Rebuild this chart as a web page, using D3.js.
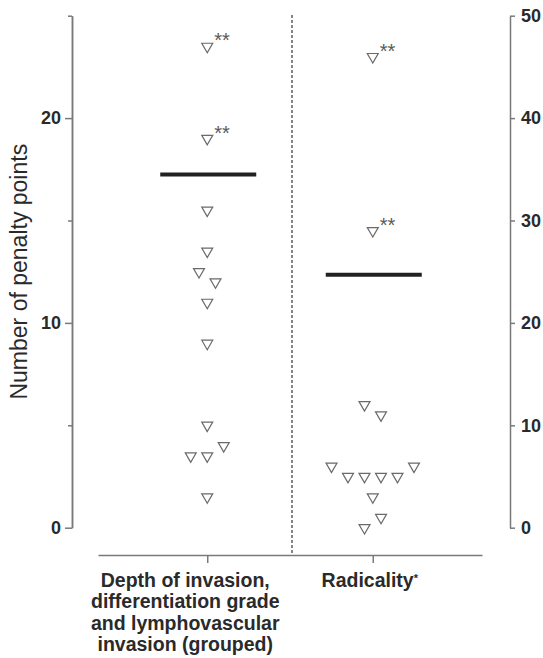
<!DOCTYPE html>
<html>
<head>
<meta charset="utf-8">
<script src="https://cdn.jsdelivr.net/npm/d3@7"></script>
<style>
  body { margin: 0; background: #fff; }
  text { font-family: Arial, "Liberation Sans", sans-serif; }
</style>
</head>
<body>
<div id="canvas"></div>
<script>
// categories on the x axis
const categories = ["depth", "radicality"];
const categoryLabels = {
    depth: ["Depth of invasion,", "differentiation grade", "and lymphovascular", "invasion (grouped)"],
    radicality: ["Radicality"]
};

// penalty points per patient, left group on left axis (0-25), right group on right axis (0-50)
const depthValues = [23.5, 19, 15.5, 13.5, 12.5, 12, 11, 9, 5, 4, 3.5, 3.5, 1.5];
const depthSlot   = [0, 0, 0, 0, -0.5, 0.5, 0, 0, 0, 1, -1, 0, 0];
const depthMarks  = ["**", "**", "", "", "", "", "", "", "", "", "", "", ""];

const radicalityValues = [46, 29, 12, 11, 6, 6, 5, 5, 5, 5, 3, 1, 0];
const radicalitySlot   = [0, 0, -0.5, 0.5, -2.5, 2.5, -1.5, -0.5, 0.5, 1.5, 0, 0.5, -0.5];
const radicalityMarks  = ["**", "**", "", "", "", "", "", "", "", "", "", "", ""];

// horizontal bars (cut-off levels)
const depthLine = 17.25;
const radicalityLine = 24.7;

// tick values
const leftTicks = [0, 10, 20];
const leftMinorTicks = [5, 15, 25];
const rightTicks = [0, 10, 20, 30, 40, 50];

const width = 543;
const height = 658;

const svg = d3.select("#canvas")
    .append("svg")
    .attr("width", width)
    .attr("height", height);

const yLeft = d3.scaleLinear().domain([0, 25]).range([527.7, 15.7]);
const yRight = d3.scaleLinear().domain([0, 50]).range([527.7, 15.7]);

const x = d3.scalePoint()
    .domain(categories)
    .range([98, 482])
    .padding(0.66);

// swarm offset, one slot ~ one triangle width
const slot = d3.scaleLinear().domain([-1, 1]).range([-16.5, 16.5]);

const axisColor = "#7a7a7a";

function styleAxis(g) {
    g.selectAll(".domain").attr("stroke", axisColor).attr("stroke-width", 1.5);
    g.selectAll(".tick line").attr("stroke", axisColor).attr("stroke-width", 1.5);
    g.selectAll(".tick text")
        .attr("fill", "#2a2a2a")
        .style("font-size", "18px")
        .style("font-weight", "bold");
}

// left axis
svg.append("g")
    .attr("transform", "translate(72,0)")
    .call(d3.axisLeft(yLeft).tickValues(leftTicks).tickSize(7).tickPadding(4).tickSizeOuter(0))
    .call(styleAxis);

svg.append("g")
    .attr("transform", "translate(72,0)")
    .call(d3.axisLeft(yLeft).tickValues(leftMinorTicks).tickSize(4).tickFormat("").tickSizeOuter(0))
    .call(styleAxis);

// right axis
svg.append("g")
    .attr("transform", "translate(510,0)")
    .call(d3.axisRight(yRight).tickValues(rightTicks).tickSize(5).tickPadding(6).tickSizeOuter(0))
    .call(styleAxis);

// bottom axis
svg.append("g")
    .attr("transform", "translate(0,555)")
    .call(d3.axisBottom(x).tickSize(8).tickFormat("").tickSizeOuter(0))
    .call(styleAxis);

// dashed divider between groups
const midX = (x("depth") + x("radicality")) / 2 + 2;
svg.append("line")
    .attr("x1", midX).attr("x2", midX)
    .attr("y1", 15).attr("y2", 553)
    .attr("stroke", "#333")
    .attr("stroke-width", 1.2)
    .attr("stroke-dasharray", "3,2");

// y axis title
svg.append("text")
    .attr("transform", `translate(27,${(yLeft(0) + yLeft(25)) / 2}) rotate(-90)`)
    .attr("text-anchor", "middle")
    .attr("fill", "#2a2a2a")
    .style("font-size", "23px")
    .text("Number of penalty points");

// category labels
const labelShift = { depth: -22, radicality: -3 };
categories.forEach(c => {
    const t = svg.append("text")
        .attr("text-anchor", "middle")
        .attr("fill", "#2a2a2a")
        .style("font-size", "19.5px")
        .style("font-weight", "bold");
    categoryLabels[c].forEach((line, i) => {
        t.append("tspan")
            .attr("x", x(c) + labelShift[c])
            .attr("y", 587 + i * 21.4)
            .text(line);
    });
    if (c === "radicality") {
        t.append("tspan")
            .attr("dy", -5)
            .style("font-size", "11px")
            .text("*");
    }
});

// points
const groups = [
    { cat: "depth", values: depthValues, slots: depthSlot, marks: depthMarks, y: yLeft, line: depthLine },
    { cat: "radicality", values: radicalityValues, slots: radicalitySlot, marks: radicalityMarks, y: yRight, line: radicalityLine }
];

const tri = d3.symbol().type(d3.symbolTriangle).size(52);

groups.forEach(grp => {
    const pts = grp.values.map((v, i) => ({ v: v, s: grp.slots[i], m: grp.marks[i] }));

    // cut-off bar
    svg.append("line")
        .attr("x1", x(grp.cat) - 47)
        .attr("x2", x(grp.cat) + 49)
        .attr("y1", grp.y(grp.line))
        .attr("y2", grp.y(grp.line))
        .attr("stroke", "#222")
        .attr("stroke-width", 4);

    const g = svg.append("g");
    g.selectAll("path")
        .data(pts)
        .join("path")
        .attr("d", tri)
        .attr("transform", d => `translate(${x(grp.cat) + slot(d.s)},${grp.y(d.v)}) rotate(180)`)
        .attr("fill", "#fff")
        .attr("stroke", "#6a6a6a")
        .attr("stroke-width", 1.2);

    g.selectAll("text")
        .data(pts.filter(d => d.m))
        .join("text")
        .attr("x", d => x(grp.cat) + slot(d.s) + 7)
        .attr("y", d => grp.y(d.v) + 1)
        .attr("fill", "#5a5a5a")
        .style("font-size", "20px")
        .text(d => d.m);
});
</script>
</body>
</html>
